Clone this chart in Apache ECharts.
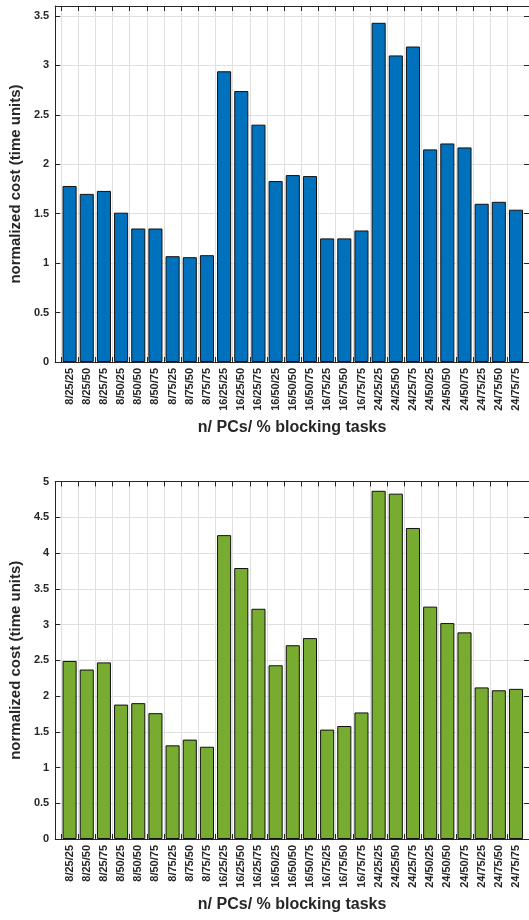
<!DOCTYPE html>
<html>
<head>
<meta charset="utf-8">
<script src="https://cdn.jsdelivr.net/npm/echarts@6/dist/echarts.min.js"></script>
<style>
html,body{margin:0;padding:0;background:#fff;}
#c{width:529px;height:920px;}
</style>
</head>
<body>
<div id="c"></div>
<script>
const categories = ["8/25/25","8/25/50","8/25/75","8/50/25","8/50/50","8/50/75","8/75/25","8/75/50","8/75/75",
  "16/25/25","16/25/50","16/25/75","16/50/25","16/50/50","16/50/75","16/75/25","16/75/50","16/75/75",
  "24/25/25","24/25/50","24/25/75","24/50/25","24/50/50","24/50/75","24/75/25","24/75/50","24/75/75"];
const topValues = [1.78,1.70,1.73,1.51,1.35,1.35,1.07,1.06,1.08,
  2.94,2.74,2.40,1.83,1.89,1.88,1.25,1.25,1.33,
  3.43,3.10,3.19,2.15,2.21,2.17,1.60,1.62,1.54];
const bottomValues = [2.49,2.37,2.47,1.88,1.90,1.76,1.31,1.39,1.29,
  4.25,3.79,3.22,2.43,2.71,2.81,1.53,1.58,1.77,
  4.87,4.83,4.35,3.25,3.02,2.89,2.12,2.08,2.10];
const topYMax = 3.6, bottomYMax = 5;
const yTickStep = 0.5;
const xTitle = "n/ PCs/ % blocking tasks";
const yTitle = "normalized cost (time units)";

const FONT = "'Liberation Sans', Arial, Helvetica, sans-serif";
const INK = '#262626';
const GRIDC = '#dfdfdf';
const BAND = 17.17;
const N = categories.length;

const chart = echarts.init(document.getElementById('c'), null, {renderer: 'canvas'});

function panel(top, height, yMax, gi) {
  const frameLeft = 52, frameWidth = 477.5;
  const barLeft = 61;
  const grids = [
    {left: frameLeft, top: top, width: frameWidth, height: height},
    {left: barLeft, top: top, width: BAND * N, height: height},
    {left: barLeft, top: top, width: BAND * (N - 1), height: height}
  ];
  const none = {show: false};
  const xAxes = [
    {gridIndex: gi, type: 'value', min: 0, max: 1, position: 'bottom',
     axisLine: {show: true, onZero: false, lineStyle: {color: INK, width: 1}},
     axisTick: none, axisLabel: none, splitLine: none,
     name: xTitle, nameLocation: 'middle', nameGap: 58,
     nameTextStyle: {fontFamily: FONT, fontWeight: 'bold', fontSize: 16, color: INK}},
    {gridIndex: gi, type: 'value', min: 0, max: 1, position: 'top',
     axisLine: {show: true, onZero: false, lineStyle: {color: INK, width: 1}},
     axisTick: none, axisLabel: none, splitLine: none},
    {gridIndex: gi + 1, type: 'category', data: categories, position: 'bottom',
     axisLine: {show: false, onZero: false}, axisTick: none, splitLine: none,
     axisLabel: {rotate: 90, margin: 6, interval: 0, fontFamily: FONT, fontWeight: 'bold', fontSize: 11, color: INK}},
    {gridIndex: gi + 2, type: 'value', min: 0, max: N - 1, interval: 1, position: 'bottom',
     axisLine: {show: false, onZero: false}, axisLabel: none,
     axisTick: {show: true, inside: true, length: 5, lineStyle: {color: INK}},
     splitLine: {show: true, lineStyle: {color: GRIDC, width: 1}}},
    {gridIndex: gi + 2, type: 'value', min: 0, max: N - 1, interval: 1, position: 'top',
     axisLine: {show: false, onZero: false}, axisLabel: none,
     axisTick: {show: true, inside: true, length: 5, lineStyle: {color: INK}},
     splitLine: none}
  ];
  const yAxes = [
    {gridIndex: gi, type: 'value', min: 0, max: yMax, interval: yTickStep, position: 'left',
     axisLine: {show: true, onZero: false, lineStyle: {color: INK, width: 1}},
     axisTick: {show: true, inside: true, length: 5, lineStyle: {color: INK}},
     axisLabel: {margin: 6, showMaxLabel: yMax % yTickStep === 0, fontFamily: FONT, fontWeight: 'bold', fontSize: 11, color: INK},
     splitLine: {show: true, lineStyle: {color: GRIDC, width: 1}},
     name: yTitle, nameLocation: 'middle', nameGap: 26, nameRotate: 90,
     nameTextStyle: {fontFamily: FONT, fontWeight: 'bold', fontSize: 15, color: INK}},
    {gridIndex: gi, type: 'value', min: 0, max: yMax, interval: yTickStep, position: 'right',
     axisLine: {show: true, onZero: false, lineStyle: {color: INK, width: 1}},
     axisTick: {show: true, inside: true, length: 5, lineStyle: {color: INK}},
     axisLabel: none, splitLine: none},
    {gridIndex: gi + 1, type: 'value', min: 0, max: yMax, show: false},
    {gridIndex: gi + 2, type: 'value', min: 0, max: yMax, show: false}
  ];
  return {grids, xAxes, yAxes};
}

const p1 = panel(6, 356, topYMax, 0);
const p2 = panel(481.5, 357.5, bottomYMax, 3);

const option = {
  animation: false,
  backgroundColor: '#ffffff',
  grid: p1.grids.concat(p2.grids),
  xAxis: p1.xAxes.concat(p2.xAxes),
  yAxis: p1.yAxes.concat(p2.yAxes),
  series: [
    {type: 'bar', xAxisIndex: 2, yAxisIndex: 2, data: topValues, barWidth: '82%',
     itemStyle: {color: '#0072BD', borderColor: '#111', borderWidth: 1}},
    {type: 'bar', xAxisIndex: 7, yAxisIndex: 6, data: bottomValues, barWidth: '82%',
     itemStyle: {color: '#77AC30', borderColor: '#111', borderWidth: 1}}
  ]
};
chart.setOption(option);
</script>
</body>
</html>
